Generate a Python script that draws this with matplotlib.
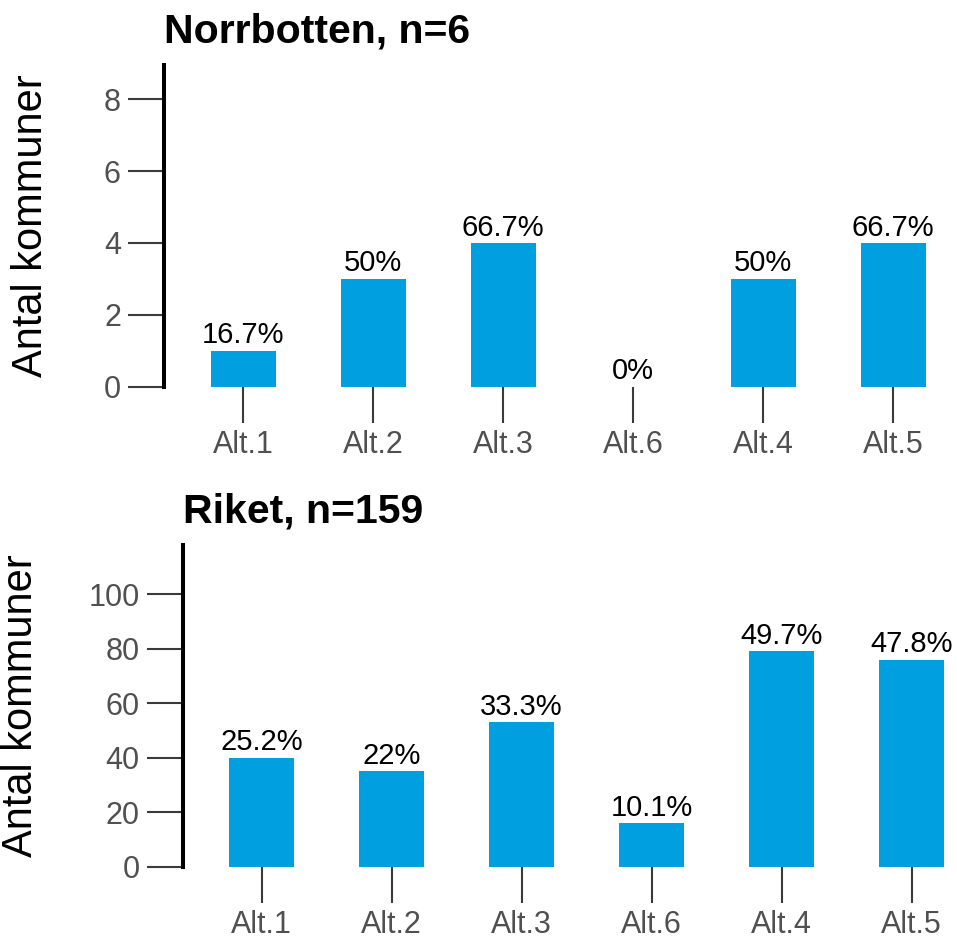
import matplotlib
matplotlib.use("Agg")
import matplotlib.pyplot as plt

plt.rcParams['font.family'] = ['Liberation Sans', 'DejaVu Sans']

categories = ["Alt.1", "Alt.2", "Alt.3", "Alt.6", "Alt.4", "Alt.5"]

norrbotten_n = 6
norrbotten_counts = [1, 3, 4, 0, 3, 4]
norrbotten_ticks = [0, 2, 4, 6, 8]

riket_n = 159
riket_counts = [40, 35, 53, 16, 79, 76]
riket_ticks = [0, 20, 40, 60, 80, 100]

BAR_COLOR = "#009FE0"
TICK_COLOR = "#3A3A3A"
LABEL_GRAY = "#505050"

W, H = 957, 940


def px_box(left, top, right, bottom):
    # figure pixel box (origin top-left) -> axes rect
    return [left / W, (H - bottom) / H, (right - left) / W, (bottom - top) / H]


def draw_panel(ax, title, n, counts, yticks, ymax, xlim, ylab_x):
    x = list(range(len(categories)))
    ax.bar(x, counts, width=0.5, color=BAR_COLOR, zorder=2)

    for xi, c in zip(x, counts):
        pct = round(c / n * 100, 1)
        ax.annotate(f"{pct:g}%", (xi, c), xytext=(0, 1), textcoords="offset points",
                    ha="center", va="bottom", fontsize=21, color="black",
                    annotation_clip=False)

    ax.set_xlim(*xlim)
    ax.set_ylim(0, ymax)
    ax.set_xticks(x)
    ax.set_xticklabels(categories)
    ax.set_yticks(yticks)

    for side in ["top", "right", "bottom"]:
        ax.spines[side].set_visible(False)
    ax.spines["left"].set_linewidth(2.9)
    ax.spines["left"].set_color("black")

    ax.tick_params(axis="both", direction="out", length=26, width=1.5,
                   color=TICK_COLOR, labelcolor=LABEL_GRAY)
    ax.tick_params(axis="y", pad=5, labelsize=22)
    ax.tick_params(axis="x", pad=5, labelsize=22)

    ax.set_ylabel("Antal kommuner", fontsize=30, color="black")
    ax.yaxis.set_label_coords(ylab_x, 0.5)

    ax.set_title(title, loc="left", fontsize=29.5, fontweight="bold", pad=16.5)


fig = plt.figure(figsize=(W / 100, H / 100), dpi=100)

ax1 = fig.add_axes(px_box(164, 65, 957, 386.5))
draw_panel(ax1, f"Norrbotten, n={norrbotten_n}", norrbotten_n, norrbotten_counts,
           norrbotten_ticks, 8.96, (-0.61, 5.49), -0.1425)

ax2 = fig.add_axes(px_box(182.7, 545, 956, 866.7))
draw_panel(ax2, f"Riket, n={riket_n}", riket_n, riket_counts,
           riket_ticks, 118, (-0.606, 5.34), -0.1835)

fig.savefig("out.png", dpi=100)
